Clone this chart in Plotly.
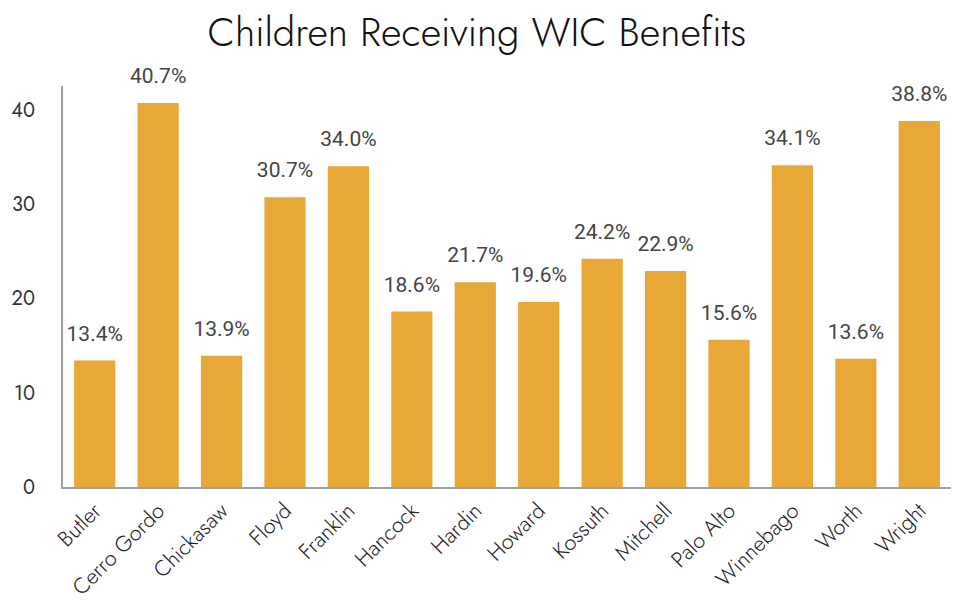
import plotly.graph_objects as go

counties = ["Butler", "Cerro Gordo", "Chickasaw", "Floyd", "Franklin", "Hancock", "Hardin",
            "Howard", "Kossuth", "Mitchell", "Palo Alto", "Winnebago", "Worth", "Wright"]
pct = [13.4, 40.7, 13.9, 30.7, 34.0, 18.6, 21.7, 19.6, 24.2, 22.9, 15.6, 34.1, 13.6, 38.8]
labels = [f"{v:.1f}%" for v in pct]
y_ticks = [0, 10, 20, 30, 40]

font = "Jost, Futura, Lato, sans-serif"

fig = go.Figure()
fig.add_trace(go.Bar(
    x=counties, y=pct,
    marker=dict(color="#E8A838", line=dict(width=0)),
    hoverinfo="x+y",
))
fig.add_trace(go.Scatter(
    x=counties, y=pct, text=labels, mode="markers+text", textposition="top center",
    cliponaxis=False, hoverinfo="skip",
    marker=dict(size=22, opacity=0),
    textfont=dict(size=21, color="#444444", family="Roboto, sans-serif"),
))

fig.update_layout(
    width=954, height=603,
    margin=dict(l=63, r=3, t=86, b=116),
    paper_bgcolor="white", plot_bgcolor="white",
    bargap=0.35,
    showlegend=False,
    title=dict(text="Children Receiving WIC Benefits", x=0.5, xanchor="center",
               y=1 - 32 / 603, yanchor="middle",
               font=dict(size=40, color="#111111", family=font, weight=300)),
    xaxis=dict(tickangle=-45, showline=True, linecolor="#9aa0a6", linewidth=2,
               range=[-0.5, len(counties) - 0.5],
               showgrid=False, ticks="", automargin=False,
               tickfont=dict(size=22, color="#222222", family=font, weight=300)),
    yaxis=dict(range=[0, 42.5], tickvals=y_ticks, showline=True, linecolor="#9aa0a6",
               linewidth=2, showgrid=False, zeroline=False, ticks="", automargin=False,
               ticklabelstandoff=22,
               tickfont=dict(size=20, color="#333333", family=font)),
)

fig.write_html("out.html", config={"displayModeBar": False},
               post_script="document.body.style.margin='0';")
